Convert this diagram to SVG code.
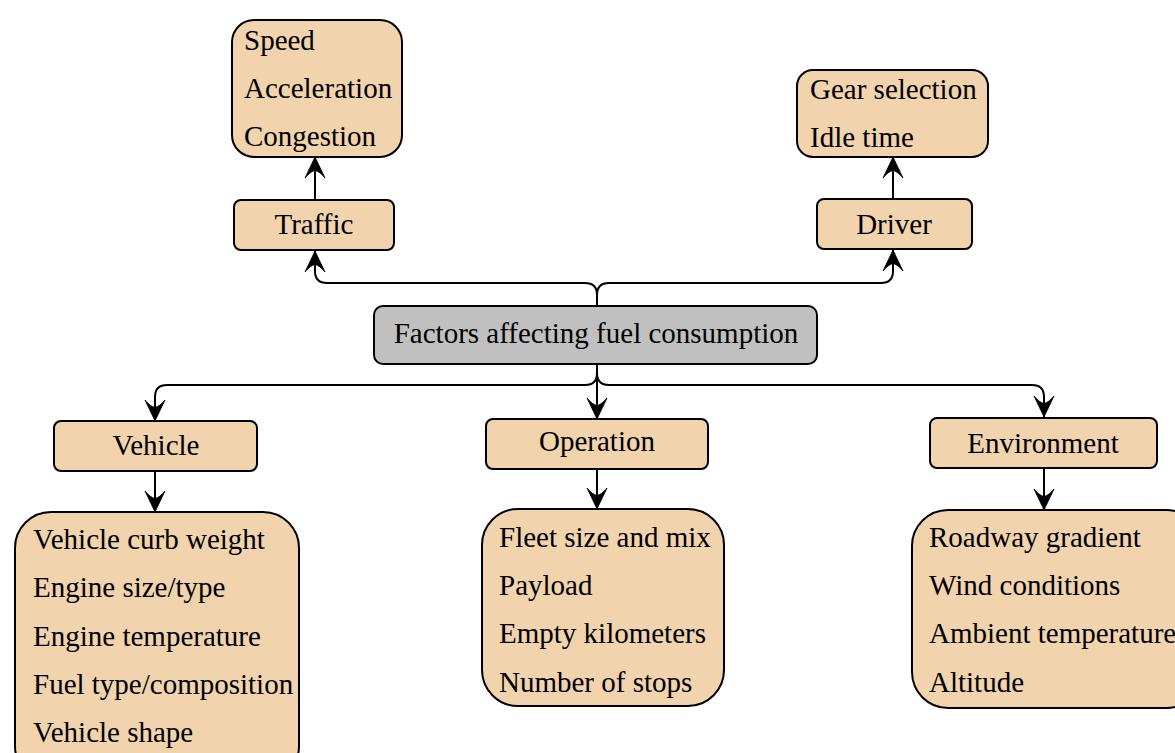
<svg xmlns="http://www.w3.org/2000/svg" width="1175" height="753" viewBox="0 0 1175 753">
  <style>
    .box { fill: #f1d3ad; stroke: #000; stroke-width: 2; }
    .root { fill: #c0c0c0; stroke: #000; stroke-width: 2; }
    text { font-family: "Liberation Serif", "Times New Roman", serif; font-size: 29px; fill: #000; }
    .c { text-anchor: middle; }
    .edge { fill: none; stroke: #000; stroke-width: 2; marker-end: url(#arrow); }
  </style>
  <defs>
    <!-- stealth-style arrowhead, tip at the path end -->
    <marker id="arrow" markerUnits="userSpaceOnUse" markerWidth="24" markerHeight="24" viewBox="0 0 24 24" refX="22" refY="12" orient="auto">
      <path d="M22,12 L1,2 Q8,8 8.5,12 Q8,16 1,22 Z" fill="#000" stroke="#000" stroke-width="0.8" stroke-linejoin="miter"/>
    </marker>
  </defs>

  <rect width="1175" height="753" fill="#fff"/>

  <!-- connectors -->
  <g id="connectors">
    <path class="edge" d="M597,306 L597,295 Q597,283 585,283 L327,283 Q315,283 315,271 L315,251"/>
    <path class="edge" d="M597,306 L597,295 Q597,283 609,283 L881,283 Q893,283 893,271 L893,250"/>
    <path class="edge" d="M597,364 L597,373 Q597,385 585,385 L167,385 Q155,385 155,397 L155,421"/>
    <path class="edge" d="M597,364 L597,419"/>
    <path class="edge" d="M597,364 L597,373 Q597,385 609,385 L1032,385 Q1044,385 1044,397 L1044,417"/>
    <path class="edge" d="M315,200 L315,157"/>
    <path class="edge" d="M893,199 L893,157"/>
    <path class="edge" d="M155,472 L155,512"/>
    <path class="edge" d="M597,469 L597,509"/>
    <path class="edge" d="M1044,468 L1044,510"/>
  </g>

  <!-- central node -->
  <g id="root">
    <rect class="root" x="374" y="306" width="443" height="58" rx="9"/>
    <text class="c" x="596" y="343">Factors affecting fuel consumption</text>
  </g>

  <!-- Traffic branch -->
  <g id="traffic">
    <rect class="box" x="234" y="200" width="160" height="50" rx="7"/>
    <text class="c" x="314" y="234">Traffic</text>
  </g>
  <g id="traffic-items">
    <rect class="box" x="232" y="20" width="170" height="137" rx="22"/>
    <text x="244" y="50">Speed</text>
    <text x="244" y="98">Acceleration</text>
    <text x="244" y="146">Congestion</text>
  </g>

  <!-- Driver branch -->
  <g id="driver">
    <rect class="box" x="817" y="199" width="155" height="50" rx="7"/>
    <text class="c" x="894" y="234">Driver</text>
  </g>
  <g id="driver-items">
    <rect class="box" x="797" y="70" width="191" height="87" rx="16"/>
    <text x="810" y="99">Gear selection</text>
    <text x="810" y="147">Idle time</text>
  </g>

  <!-- Vehicle branch -->
  <g id="vehicle">
    <rect class="box" x="54" y="421" width="203" height="50" rx="7"/>
    <text class="c" x="156" y="455">Vehicle</text>
  </g>
  <g id="vehicle-items">
    <rect class="box" x="15" y="512" width="284" height="270" rx="36"/>
    <text x="33" y="549">Vehicle curb weight</text>
    <text x="33" y="597">Engine size/type</text>
    <text x="33" y="646">Engine temperature</text>
    <text x="33" y="694">Fuel type/composition</text>
    <text x="33" y="742">Vehicle shape</text>
  </g>

  <!-- Operation branch -->
  <g id="operation">
    <rect class="box" x="486" y="419" width="222" height="50" rx="7"/>
    <text class="c" x="597" y="451">Operation</text>
  </g>
  <g id="operation-items">
    <rect class="box" x="482" y="509" width="242" height="197" rx="36"/>
    <text x="499" y="547">Fleet size and mix</text>
    <text x="499" y="595">Payload</text>
    <text x="499" y="643">Empty kilometers</text>
    <text x="499" y="692">Number of stops</text>
  </g>

  <!-- Environment branch -->
  <g id="environment">
    <rect class="box" x="930" y="418" width="227" height="50" rx="7"/>
    <text class="c" x="1043" y="453">Environment</text>
  </g>
  <g id="environment-items">
    <rect class="box" x="912" y="510" width="290" height="198" rx="36"/>
    <text x="929" y="547">Roadway gradient</text>
    <text x="929" y="595">Wind conditions</text>
    <text x="929" y="643">Ambient temperature</text>
    <text x="929" y="692">Altitude</text>
  </g>
</svg>
